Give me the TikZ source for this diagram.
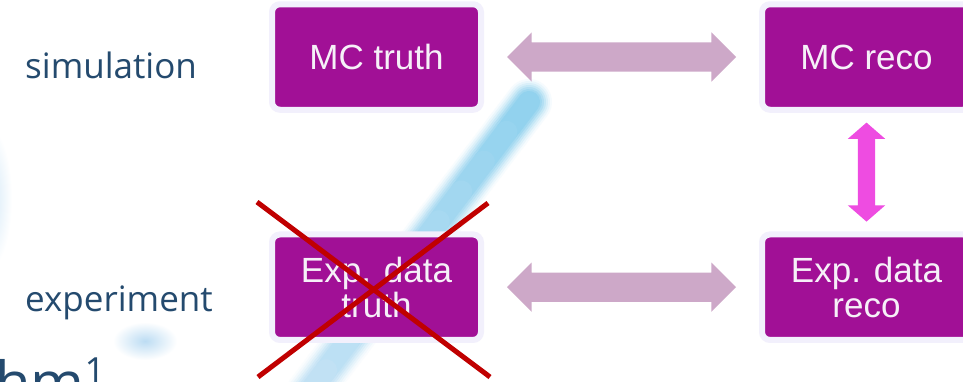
\documentclass[tikz,border=0pt]{standalone}
\usepackage{fontspec}
\setmainfont{Liberation Sans}
\newfontfamily\labelfont{Open Sans}
\usetikzlibrary{calc,shapes.arrows}

\definecolor{boxpurple}{RGB}{161,16,150}
\definecolor{boxrim}{RGB}{242,240,252}
\definecolor{boxtext}{RGB}{246,240,248}
\definecolor{linkmauve}{RGB}{205,168,200}
\definecolor{linkpink}{RGB}{238,76,225}
\definecolor{crossred}{RGB}{192,0,0}
\definecolor{labelblue}{RGB}{36,74,110}
\definecolor{glowtop}{RGB}{146,210,238}
\definecolor{glowbot}{RGB}{198,227,245}
\definecolor{glowsoft}{RGB}{188,220,243}

\begin{document}
\begin{tikzpicture}[x=1pt,y=-1pt,
  stage/.style={rectangle, rounded corners=8pt, fill=boxpurple, draw=boxrim,
    line width=6pt, minimum width=209pt, minimum height=105.5pt, inner sep=0pt,
    text=boxtext, align=center, font=\fontsize{35}{35}\selectfont},
  rowlabel/.style={anchor=base west, inner sep=0pt, text=labelblue,
    font=\labelfont\fontsize{35}{40}\selectfont},
  hlink/.style={double arrow, double arrow head extend=10pt,
    double arrow tip angle=90, fill=linkmauve, draw=none,
    inner sep=14.5pt, minimum width=49pt, minimum height=229pt},
  vlink/.style={double arrow, rotate=90, double arrow head extend=10pt,
    double arrow tip angle=98, fill=linkpink, draw=none,
    inner sep=8.5pt, minimum width=37pt, minimum height=99pt},
  cross/.style={crossred, line width=5pt}
]
\useasboundingbox (0,0) rectangle (963,381);
\fill[white] (0,0) rectangle (963,381);

% soft background glows
\shade[inner color=glowsoft!70!white, outer color=white] (-12,198) ellipse (24 and 72);
\shade[inner color=glowsoft, outer color=white] (145,341) ellipse (32 and 19);

% blurred diagonal stroke, darker at its upper end
\coordinate (gs) at (529,102);
\coordinate (ge) at (303.5,400);
\foreach \w/\f in {46/8, 42/20, 38/35, 34/52, 30/70, 26/86, 22/100} {
  \foreach \j in {0,...,9} {
    \pgfmathtruncatemacro\mixv{100-\j*10}
    \pgfmathsetmacro\ta{\j/10}
    \pgfmathsetmacro\tb{(\j+1)/10}
    \draw[line width=\w pt, line cap=round, draw=glowtop!\mixv!glowbot!\f!white]
      ($(gs)!\ta!(ge)$) -- ($(gs)!\tb!(ge)$);
  }
}

% row labels
\node[rowlabel] (simlabel) at (25,78) {simulation};
\node[rowlabel] (explabel) at (25,311.7) {experiment};
\node[anchor=base west, inner sep=0pt, text=labelblue,
  font=\labelfont\fontsize{58}{60}\selectfont] (algo) at (-5,403)
  {hm\raisebox{20pt}{\fontsize{36}{36}\selectfont 1}};

% the four stages
\node[stage] (mct) at (376.5,57) {MC truth};
\node[stage] (mcr) at (866.5,57) {MC reco};
\node[stage] (edt) at (376.5,287.2) {Exp. data\\truth};
\node[stage] (edr) at (866.5,287.2) {Exp. data\\reco};

% links between stages
\node[hlink] (toplink) at ($(mct.east)!0.5!(mcr.west)$) {};
\node[hlink] (botlink) at ($(edt.east)!0.5!(edr.west)$) {};
\node[vlink] (sidelink) at ($(mcr.south)!0.5!(edr.north)$) {};

% crossing out the experimental truth
\coordinate (xa) at (257,202);
\coordinate (xb) at (490,377);
\coordinate (xc) at (488,203);
\coordinate (xd) at (258,377);
\draw[cross] (xa) -- (xb);
\draw[cross] (xc) -- (xd);
\end{tikzpicture}
\end{document}
